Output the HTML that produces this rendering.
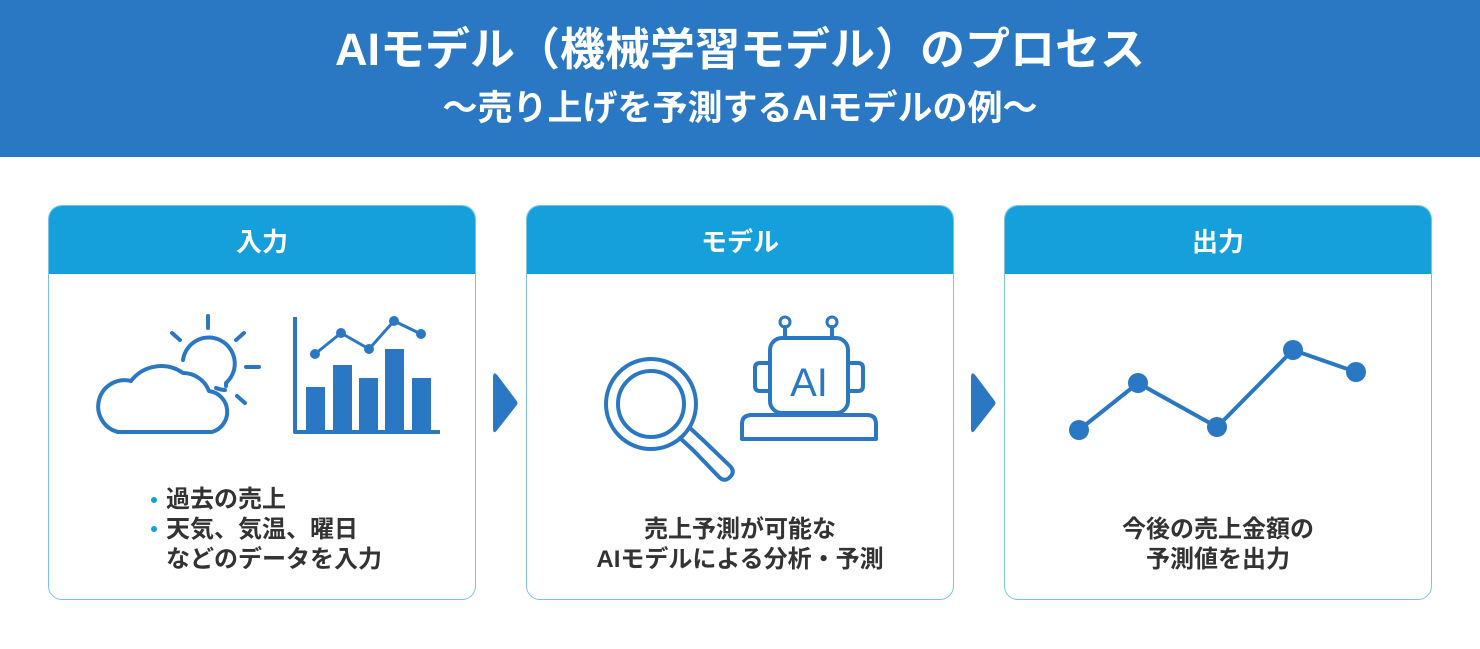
<!DOCTYPE html>
<html><head><meta charset="utf-8"><style>
body{margin:0;width:1480px;height:649px;background:#fff;position:relative;overflow:hidden;font-family:"Liberation Sans","Noto Sans CJK JP",sans-serif}
.hdr{position:absolute;left:0;top:0;width:1480px;height:157px;background:#2a78c3;color:#fff;text-align:center}
.t1{position:absolute;top:20px;width:100%;font-size:45px;font-weight:bold;line-height:60px}
.t2{position:absolute;top:87px;width:100%;font-size:35px;font-weight:bold;line-height:44px}
.card{position:absolute;top:205px;height:395px;border:1px solid #7cc2e6;border-radius:14px;overflow:hidden;box-sizing:border-box}
.ch{height:68px;background:#15a0dc;color:#fff;font-size:26px;font-weight:bold;text-align:center;line-height:72px}
.txt{position:absolute;font-size:24px;font-weight:bold;color:#333;line-height:30px}
svg{position:absolute;left:0;top:0}
</style></head><body>
<div class="hdr"><div class="t1">AIモデル（機械学習モデル）のプロセス</div><div class="t2">〜売り上げを予測するAIモデルの例〜</div></div>
<div class="card" style="left:48px;width:428px"><div class="ch">入力</div></div>
<div class="card" style="left:526px;width:428px"><div class="ch">モデル</div></div>
<div class="card" style="left:1004px;width:428px"><div class="ch">出力</div></div>
<svg width="1480" height="649" fill="none" stroke="#2a78c3" stroke-width="4" stroke-linecap="round" stroke-linejoin="round">
<path d="M493,378 Q493,370 498,376 L516,400 Q519,403 516,406 L498,429 Q493,436 493,428Z" fill="#2a78c3" stroke="none"/>
<path d="M971,378 Q971,370 976,376 L994,400 Q997,403 994,406 L976,429 Q971,436 971,428Z" fill="#2a78c3" stroke="none"/>
<!-- cloud/sun -->
<path d="M183,360 A26,26 0 1 1 226,383 A25,25 0 0 1 226,386 M225,390 A26,26 0 0 1 216,388"/>
<path d="M208,316 V328 M172,333 L180,340 M244,333 L236,340 M246,367 H259 M237,396 L245,403"/>
<path d="M118,432 A26,26 0 0 1 131,381 A38,38 0 0 1 183,373 A28,28 0 0 1 209,391 A21,21 0 0 1 212,432 Z"/>
<!-- chart -->
<path d="M295,317 V432 H440" stroke-linecap="butt"/>
<g fill="#2a78c3" stroke="none"><rect x="306" y="387" width="19" height="45"/><rect x="333" y="365" width="19" height="67"/><rect x="359" y="378" width="19" height="54"/><rect x="385" y="349" width="19" height="83"/><rect x="412" y="378" width="19" height="54"/>
<circle cx="315" cy="354" r="5"/><circle cx="341" cy="333" r="5"/><circle cx="369" cy="349" r="5"/><circle cx="394" cy="321" r="5"/><circle cx="421" cy="334" r="5"/></g>
<path d="M315,354 L341,333 L369,349 L394,321 L421,334" stroke-width="3"/>
<!-- magnifier -->
<circle cx="651" cy="404" r="45" stroke-width="4"/><circle cx="651" cy="404" r="33" stroke-width="4"/>
<path d="M680,438 L694,451 M694,451 L719,477 Q724,482 729,478 L731,476 Q735,471 730,466 L704,441 L690,428"/>
<!-- robot -->
<rect x="770" y="338" width="78" height="75" rx="12"/>
<path d="M770,363 H760 Q755,363 755,368 V386 Q755,391 760,391 H770 M848,363 H858 Q863,363 863,368 V386 Q863,391 858,391 H848"/>
<path d="M785,338 V327 M832,338 V327"/><circle cx="785" cy="322" r="5" stroke-width="3"/><circle cx="832" cy="322" r="5" stroke-width="3"/>
<path d="M752,415 H867 Q876,415 876,424 V439 H742 V424 Q742,415 752,415Z"/>
<text x="809" y="396" fill="#2a78c3" stroke="none" font-family="Liberation Sans,sans-serif" font-size="40" text-anchor="middle">AI</text>
<!-- output line -->
<path d="M1079,430 L1138,383 L1217,427 L1293,350 L1356,372"/>
<g fill="#2a78c3" stroke="none"><circle cx="1079" cy="430" r="10"/><circle cx="1138" cy="383" r="10"/><circle cx="1217" cy="427" r="10"/><circle cx="1293" cy="350" r="10"/><circle cx="1356" cy="372" r="10"/></g>
<g fill="#15a0dc" stroke="none"><circle cx="154" cy="500" r="3"/><circle cx="154" cy="529" r="3"/></g>
</svg>
<div class="txt" style="left:166px;top:485px">過去の売上<br>天気、気温、曜日<br>などのデータを入力</div>
<div class="txt" style="left:526px;width:428px;text-align:center;top:515px">売上予測が可能な<br>AIモデルによる分析・予測</div>
<div class="txt" style="left:1004px;width:428px;text-align:center;top:515px">今後の売上金額の<br>予測値を出力</div>
</body></html>
